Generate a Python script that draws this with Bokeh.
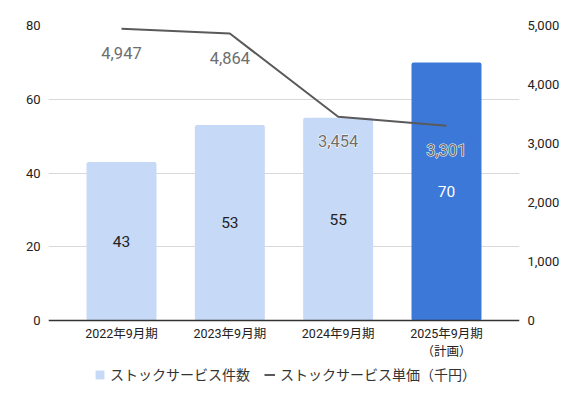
from bokeh.plotting import figure
from bokeh.models import (ColumnDataSource, Range1d, LinearAxis, Legend, LegendItem,
                          NumeralTickFormatter, FixedTicker)
from bokeh.core.properties import value
from bokeh.embed import file_html
from bokeh.resources import INLINE

categories = ["2022年9月期", "2023年9月期", "2024年9月期", "2025年9月期\n（計画）"]
counts = [43, 53, 55, 70]
unit_prices = [4947, 4864, 3454, 3301]
bar_colors = ["#c6d9f6", "#c6d9f6", "#c6d9f6", "#3c78d8"]
count_label_colors = ["#222222", "#222222", "#222222", "#ffffff"]
left_ticks = [0, 20, 40, 60, 80]
right_ticks = [0, 1000, 2000, 3000, 4000, 5000]
series_names = ["ストックサービス件数", "ストックサービス単価（千円）"]

FONT = "Roboto, 'Noto Sans CJK JP', sans-serif"
LINE_COLOR = "#5a5a5a"
PRICE_LABEL_COLOR = "#6e6e6e"

# layout: value axis spans 0..80 over 295px; frame extends below 0 to hold labels + legend
LEFT_MAX = 80
RIGHT_MAX = 5000
PX_PER_UNIT = 295 / LEFT_MAX
BELOW_PX = 74
left_min = -BELOW_PX / PX_PER_UNIT
right_min = left_min / LEFT_MAX * RIGHT_MAX

xs = list(range(len(categories)))
src = ColumnDataSource(dict(
    x=xs,
    count=counts,
    mid=[c / 2 for c in counts],
    count_text=[str(c) for c in counts],
    color=bar_colors,
    count_color=count_label_colors,
    price=unit_prices,
    price_text=[f"{v:,}" for v in unit_prices],
))

p = figure(width=572, height=400, x_range=Range1d(-0.674, 3.674),
           y_range=Range1d(left_min, LEFT_MAX),
           output_backend="svg", toolbar_location=None,
           min_border_left=48, min_border_right=53, min_border_top=25, min_border_bottom=6)
p.extra_y_ranges = {"price": Range1d(right_min, RIGHT_MAX)}
p.outline_line_color = None

bars = p.vbar(x="x", top="count", width=0.646, source=src, fill_color="color",
              line_color=None, border_radius=2)
p.text(x="x", y="mid", text="count_text", source=src, text_color="count_color",
       text_align="center", text_baseline="middle", text_font=value(FONT),
       text_font_size="15.5px")

line = p.line(x="x", y="price", source=src, y_range_name="price",
              line_color=LINE_COLOR, line_width=2)
# white halo layer, then the label itself on top
p.text(x="x", y="price", text="price_text", source=src, y_range_name="price",
       y_offset=24, text_color="white", text_align="center", text_baseline="middle",
       text_font=value(FONT), text_font_size="16.5px", text_outline_color="white")
p.text(x="x", y="price", text="price_text", source=src, y_range_name="price",
       y_offset=24, text_color=PRICE_LABEL_COLOR, text_align="center", text_baseline="middle",
       text_font=value(FONT), text_font_size="16.5px")

# axes
p.xaxis.fixed_location = 0
p.xaxis.ticker = FixedTicker(ticks=xs)
p.xaxis.major_label_overrides = {i: c for i, c in enumerate(categories)}
p.xaxis.major_tick_line_color = None
p.xaxis.major_tick_out = 0
p.xaxis.major_tick_in = 0
p.xaxis.minor_tick_line_color = None
p.xaxis.axis_line_color = "#333333"
p.xaxis.axis_line_width = 1.5
p.xaxis.major_label_text_font = FONT
p.xaxis.major_label_text_font_size = "12.5px"
p.xaxis.major_label_text_color = "#222222"
p.xaxis.major_label_standoff = 5

p.yaxis.ticker = FixedTicker(ticks=left_ticks)
p.yaxis.axis_line_color = None
p.yaxis.major_tick_line_color = None
p.yaxis.major_tick_out = 0
p.yaxis.major_tick_in = 0
p.yaxis.minor_tick_line_color = None
p.yaxis.major_label_text_font = FONT
p.yaxis.major_label_text_font_size = "13px"
p.yaxis.major_label_text_color = "#222222"
p.yaxis.major_label_standoff = 8

raxis = LinearAxis(y_range_name="price", ticker=FixedTicker(ticks=right_ticks),
                   formatter=NumeralTickFormatter(format="0,0"))
raxis.axis_line_color = None
raxis.major_tick_line_color = None
raxis.major_tick_out = 0
raxis.major_tick_in = 0
raxis.minor_tick_line_color = None
raxis.major_label_text_font = FONT
raxis.major_label_text_font_size = "13px"
raxis.major_label_text_color = "#222222"
raxis.major_label_standoff = 8
p.add_layout(raxis, "right")

p.xgrid.grid_line_color = None
p.ygrid.grid_line_color = "#d9d9d9"
p.ygrid.ticker = FixedTicker(ticks=left_ticks)

legend = Legend(items=[
    LegendItem(label=series_names[0], renderers=[bars], index=0),
    LegendItem(label=series_names[1], renderers=[line]),
], orientation="horizontal", location=(46, 10))
legend.border_line_color = None
legend.background_fill_alpha = 0
legend.label_text_font = FONT
legend.label_text_font_size = "14px"
legend.label_text_color = "#333333"
legend.glyph_width = 11
legend.glyph_height = 11
legend.label_standoff = 5
legend.spacing = 14
legend.margin = 0
legend.padding = 2
p.add_layout(legend, "center")

open("out.html", "w").write(file_html(p, INLINE))
